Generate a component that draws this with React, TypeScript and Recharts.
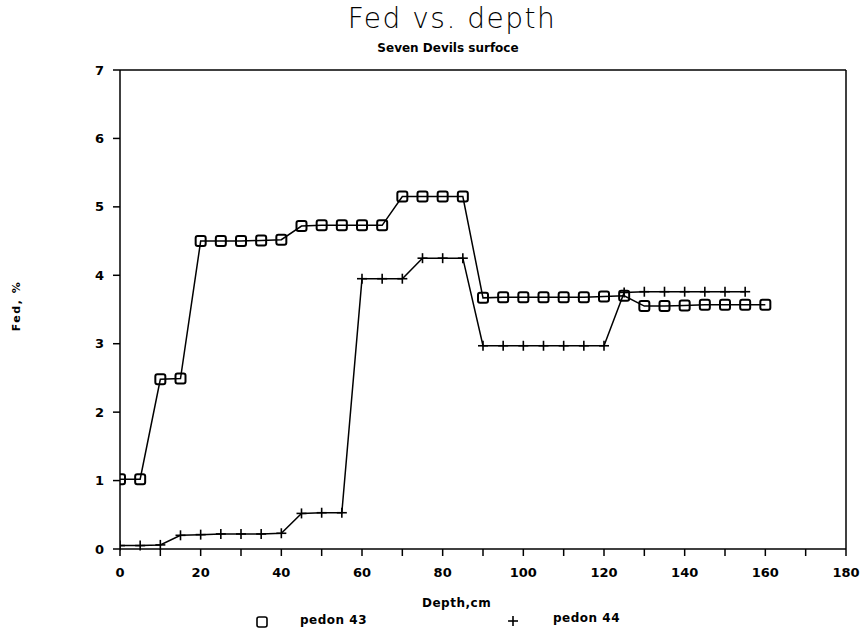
import { LineChart, Line, XAxis, YAxis } from 'recharts';

// depth (cm) sampled every 5 cm
const depths43 = [0, 5, 10, 15, 20, 25, 30, 35, 40, 45, 50, 55, 60, 65, 70, 75, 80, 85, 90, 95, 100, 105, 110, 115, 120, 125, 130, 135, 140, 145, 150, 155, 160];
const pedon43 = [1.02, 1.02, 2.48, 2.49, 4.5, 4.5, 4.5, 4.51, 4.52, 4.72, 4.73, 4.73, 4.73, 4.73, 5.15, 5.15, 5.15, 5.15, 3.67, 3.68, 3.68, 3.68, 3.68, 3.68, 3.69, 3.7, 3.55, 3.55, 3.56, 3.57, 3.57, 3.57, 3.57];

const depths44 = [0, 5, 10, 15, 20, 25, 30, 35, 40, 45, 50, 55, 60, 65, 70, 75, 80, 85, 90, 95, 100, 105, 110, 115, 120, 125, 130, 135, 140, 145, 150, 155];
const pedon44 = [0.05, 0.05, 0.06, 0.2, 0.21, 0.22, 0.22, 0.22, 0.23, 0.52, 0.53, 0.53, 3.95, 3.95, 3.95, 4.25, 4.25, 4.25, 2.97, 2.97, 2.97, 2.97, 2.97, 2.97, 2.97, 3.75, 3.76, 3.76, 3.76, 3.76, 3.76, 3.76];

const xTicks = [0, 10, 20, 30, 40, 50, 60, 70, 80, 90, 100, 110, 120, 130, 140, 150, 160, 170, 180];
const yTicks = [0, 1, 2, 3, 4, 5, 6, 7];

const series43 = depths43.map((d, i) => ({ depth: d, fed: pedon43[i] }));
const series44 = depths44.map((d, i) => ({ depth: d, fed: pedon44[i] }));

const FONT = '"DejaVu Sans", sans-serif';
const tickStyle = { fill: '#000', fontSize: 13, fontWeight: 700, fontFamily: FONT };

function SquareDot(props: any) {
  const { cx, cy } = props;
  if (cx == null || cy == null) return null;
  return <rect x={cx - 5} y={cy - 5} width={10} height={10} rx={2} fill="none" stroke="#000" strokeWidth={2} />;
}

function PlusDot(props: any) {
  const { cx, cy } = props;
  if (cx == null || cy == null) return null;
  return (
    <g stroke="#000" strokeWidth={1.6}>
      <line x1={cx - 5} y1={cy} x2={cx + 5} y2={cy} />
      <line x1={cx} y1={cy - 5} x2={cx} y2={cy + 5} />
    </g>
  );
}

export default function App() {
  return (
    <div style={{ position: 'absolute', left: 0, top: 0, width: 865, height: 636, background: '#fff', fontFamily: FONT }}>
      <div style={{ position: 'absolute', left: 0, width: 904, top: 2, textAlign: 'center', fontSize: 28, letterSpacing: 1.5, fontWeight: 200 }}>
        Fed vs. depth
      </div>
      <div style={{ position: 'absolute', left: 0, width: 896, top: 41, textAlign: 'center', fontSize: 12, fontWeight: 700 }}>
        Seven Devils surfoce
      </div>
      <div style={{ position: 'absolute', left: 16, top: 306, transform: 'translate(-50%, -50%) rotate(-90deg)', fontSize: 11, fontWeight: 700, letterSpacing: 1.5, whiteSpace: 'nowrap' }}>
        Fed, %
      </div>
      <div style={{ position: 'absolute', left: 422, top: 596, fontSize: 12, fontWeight: 700, letterSpacing: 0.5 }}>Depth,cm</div>

      <LineChart width={865} height={636} margin={{ top: 69, right: 18, bottom: 57, left: 60 }}>
        <XAxis
          xAxisId="b"
          type="number"
          dataKey="depth"
          domain={[0, 180]}
          ticks={xTicks}
          tickFormatter={(v: number) => (v % 20 === 0 ? String(v) : '')}
          tick={tickStyle}
          tickSize={7}
          tickMargin={12}
          stroke="#000"
          strokeWidth={1.5}
          height={30}
          allowDataOverflow
        />
        <XAxis xAxisId="t" type="number" domain={[0, 180]} orientation="top" tick={false} tickLine={false} stroke="#000" strokeWidth={1.5} height={1} />
        <YAxis
          yAxisId="l"
          type="number"
          domain={[0, 7]}
          ticks={yTicks}
          tick={tickStyle}
          tickSize={7}
          tickMargin={9}
          stroke="#000"
          strokeWidth={1.5}
          width={60}
        />
        <YAxis yAxisId="r" type="number" domain={[0, 7]} orientation="right" tick={false} tickLine={false} stroke="#000" strokeWidth={1.5} width={1} />
        <Line
          xAxisId="b"
          yAxisId="l"
          data={series43}
          dataKey="fed"
          type="linear"
          stroke="#000"
          strokeWidth={1.5}
          dot={<SquareDot />}
          isAnimationActive={false}
        />
        <Line
          xAxisId="b"
          yAxisId="l"
          data={series44}
          dataKey="fed"
          type="linear"
          stroke="#000"
          strokeWidth={1.5}
          dot={<PlusDot />}
          isAnimationActive={false}
        />
      </LineChart>

      <svg style={{ position: 'absolute', left: 0, top: 0 }} width={865} height={636}>
        <rect x={257} y={617} width={10} height={10} rx={2} fill="none" stroke="#000" strokeWidth={1.6} />
        <g stroke="#000" strokeWidth={1.6}>
          <line x1={508} y1={621} x2={518} y2={621} />
          <line x1={513} y1={616} x2={513} y2={626} />
        </g>
      </svg>
      <div style={{ position: 'absolute', left: 300, top: 613, fontSize: 12, fontWeight: 700, letterSpacing: 0.5 }}>pedon 43</div>
      <div style={{ position: 'absolute', left: 553, top: 611, fontSize: 12, fontWeight: 700, letterSpacing: 0.5 }}>pedon 44</div>
    </div>
  );
}
